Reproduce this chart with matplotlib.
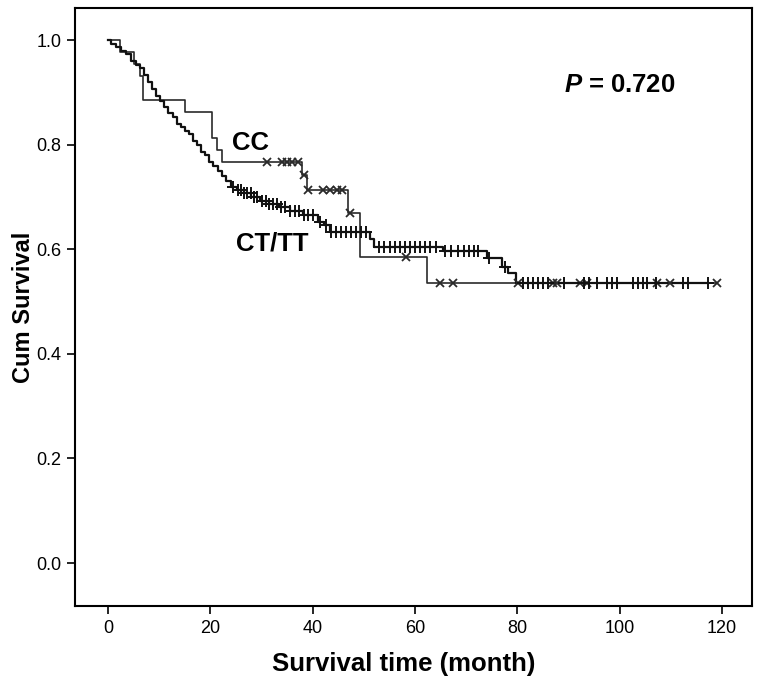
import numpy as np
import matplotlib
matplotlib.use('Agg')
import matplotlib.pyplot as plt

plt.rcParams['font.family'] = ['Liberation Sans', 'DejaVu Sans']
plt.rcParams['mathtext.fontset'] = 'custom'
plt.rcParams['mathtext.it'] = 'Liberation Sans:italic:bold'
plt.rcParams['mathtext.rm'] = 'Liberation Sans:bold'

# Kaplan-Meier steps (time in months, survival after the step)
cc_time = [0, 2.3, 5.0, 6.2, 6.8, 15.0, 20.3, 21.2, 22.2, 37.9, 38.9, 46.8, 49.2, 62.3]
cc_surv = [1.0, 0.977, 0.954, 0.931, 0.885, 0.862, 0.813, 0.790, 0.767, 0.742, 0.713, 0.670, 0.585, 0.536]
cc_end = 119.0
cc_censor = [31.1, 34.0, 35.0, 35.9, 37.1, 38.3, 39.1, 42.0, 43.4, 44.7, 45.7, 47.3, 58.2,
             64.8, 67.4, 80.1, 87.0, 87.7, 92.2, 93.5, 107.2, 109.8, 119.0]

ct_time = [0, 0.5, 1.5, 2.5, 3.5, 4.5, 5.5, 6.3, 7.0, 7.8, 8.6, 9.4, 10.2, 11.0, 11.8, 12.6,
           13.4, 14.2, 15.0, 15.8, 16.6, 17.4, 18.2, 19.0, 19.8, 20.6, 21.4, 22.2, 23.0, 24.0,
           25.2, 26.6, 28.0, 29.7, 31.5, 33.5, 35.5, 38.0, 41.0, 42.2, 43.4, 51.2, 52.0, 65.4,
           74.0, 76.9, 78.2, 79.7]
ct_surv = [1.0, 0.993, 0.987, 0.98, 0.973, 0.96, 0.953, 0.947, 0.933, 0.92, 0.907, 0.893,
           0.883, 0.873, 0.86, 0.853, 0.84, 0.833, 0.827, 0.82, 0.807, 0.80, 0.787, 0.78,
           0.767, 0.76, 0.75, 0.74, 0.73, 0.72, 0.713, 0.707, 0.70, 0.693, 0.687, 0.68, 0.673,
           0.666, 0.653, 0.646, 0.633, 0.619, 0.605, 0.597, 0.583, 0.567, 0.554, 0.536]
ct_end = 117.2
ct_censor = [24.5, 25.3, 26.0, 26.6, 27.2, 27.9, 28.5, 29.2, 30.0, 30.8, 31.5, 32.3, 33.0,
             33.8, 34.6, 35.5, 36.5, 37.3, 38.2, 39.0, 40.0, 41.5, 42.5, 43.5, 44.5, 45.5,
             46.5, 47.5, 48.5, 49.5, 50.5, 53, 54, 55, 56, 57, 58, 59, 60, 61, 62, 63, 64,
             65.8, 67.0, 68.3, 69.5, 70.5, 71.5, 72.3, 74.5, 77.5, 81, 82, 83, 84, 85, 86,
             89, 93, 94, 95.5, 97.5, 98.5, 99.4, 102.5, 103.5, 104.5, 105.3, 107, 112.3,
             113.3, 117.2]

x_ticks = [0, 20, 40, 60, 80, 100, 120]
y_ticks = [0.0, 0.2, 0.4, 0.6, 0.8, 1.0]


def surv_at(times, surv, t):
    idx = np.searchsorted(times, t, side='right') - 1
    return np.asarray(surv)[idx]


fig = plt.figure(figsize=(7.68, 6.87), dpi=100)
ax = fig.add_axes([0.098, 0.118, 0.881, 0.870])

ax.step(cc_time + [cc_end], cc_surv + [cc_surv[-1]], where='post', color='#2a2a2a', lw=1.2)
ax.step(ct_time + [ct_end], ct_surv + [ct_surv[-1]], where='post', color='#111111', lw=1.6)
ax.plot(cc_censor, surv_at(cc_time, cc_surv, cc_censor), ls='none', marker='x',
        ms=6, mew=1.3, color='#2a2a2a')
ax.plot(ct_censor, surv_at(ct_time, ct_surv, ct_censor), ls='none', marker='+',
        ms=9, mew=1.4, color='#111111')

ax.text(27.9, 0.804, 'CC', fontsize=18.5, fontweight='bold', ha='center', va='center')
ax.text(32.1, 0.611, 'CT/TT', fontsize=18.5, fontweight='bold', ha='center', va='center')
ax.text(100, 0.914, r'$P$ = 0.720', fontsize=18.5, fontweight='bold', ha='center', va='center')

ax.set_xlim(-6.4, 125.8)
ax.set_ylim(-0.082, 1.061)
ax.set_xticks(x_ticks)
ax.set_yticks(y_ticks)
ax.set_xticklabels([str(v) for v in x_ticks])
ax.set_yticklabels([f'{v:.1f}' for v in y_ticks])
ax.tick_params(direction='out', length=6, width=1.2, labelsize=13, pad=4)
for s in ax.spines.values():
    s.set_linewidth(1.5)

ax.set_xlabel('Survival time (month)', fontsize=18.5, fontweight='bold')
ax.xaxis.set_label_coords(0.486, -0.077)
ax.set_ylabel('Cum Survival', fontsize=17, fontweight='bold')
ax.yaxis.set_label_coords(-0.060, 0.5)

fig.savefig('out.png', dpi=100)
